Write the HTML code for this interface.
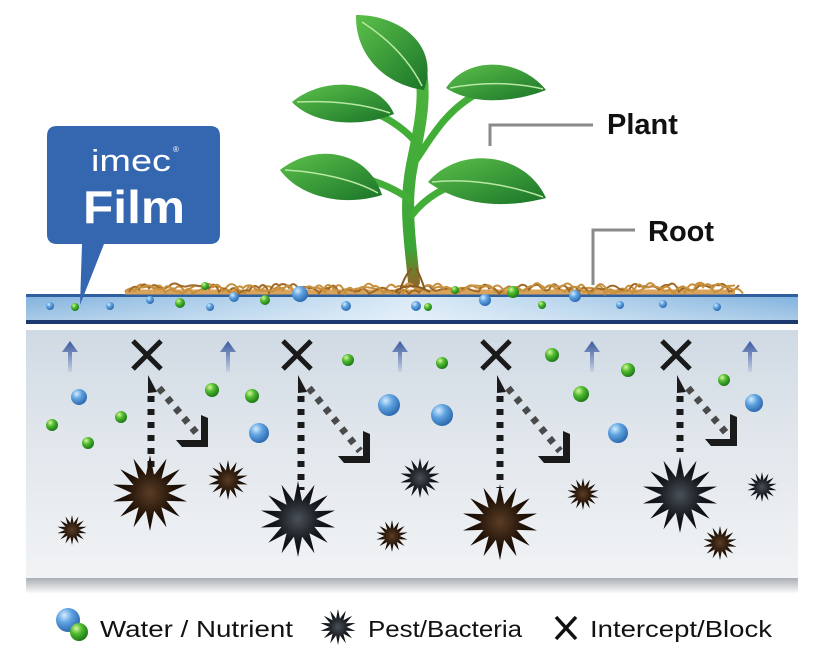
<!DOCTYPE html>
<html><head><meta charset="utf-8"><style>
html,body{margin:0;padding:0;background:#fff;width:822px;height:664px;overflow:hidden}
svg{display:block}
</style></head><body>
<svg id="s" width="822" height="664" viewBox="0 0 822 664" xmlns="http://www.w3.org/2000/svg">
<defs>
<linearGradient id="film" x1="0" y1="0" x2="1" y2="0">
<stop offset="0" stop-color="#7fb1dd"/><stop offset="0.5" stop-color="#d8e9f6"/><stop offset="1" stop-color="#7fb1dd"/>
</linearGradient>
<linearGradient id="filmv" x1="0" y1="0" x2="0" y2="1">
<stop offset="0" stop-color="#fff" stop-opacity="0"/><stop offset="1" stop-color="#fff" stop-opacity="0.35"/>
</linearGradient>
<linearGradient id="soil" x1="0" y1="0" x2="0" y2="1">
<stop offset="0" stop-color="#d0dae4"/><stop offset="0.5" stop-color="#e3e8ed"/><stop offset="1" stop-color="#f1f3f5"/>
</linearGradient>
<linearGradient id="shadow" x1="0" y1="0" x2="0" y2="1">
<stop offset="0" stop-color="#a9aeb3"/><stop offset="1" stop-color="#fff"/>
</linearGradient>
<linearGradient id="arr" x1="0" y1="0" x2="0" y2="1">
<stop offset="0" stop-color="#3c5aa0"/><stop offset="1" stop-color="#3c5aa0" stop-opacity="0.1"/>
</linearGradient>
<radialGradient id="blue" cx="0.35" cy="0.3" r="0.7">
<stop offset="0" stop-color="#d4ecff"/><stop offset="0.45" stop-color="#5fa3e0"/><stop offset="1" stop-color="#2e6bb0"/>
</radialGradient>
<radialGradient id="green" cx="0.35" cy="0.3" r="0.7">
<stop offset="0" stop-color="#d9f5a0"/><stop offset="0.45" stop-color="#4fbb2e"/><stop offset="1" stop-color="#1f7a1a"/>
</radialGradient>
<radialGradient id="brown" cx="0.5" cy="0.5" r="0.5">
<stop offset="0" stop-color="#5a3d26"/><stop offset="0.6" stop-color="#241408"/><stop offset="1" stop-color="#0e0804"/>
</radialGradient>
<radialGradient id="black" cx="0.5" cy="0.5" r="0.5">
<stop offset="0" stop-color="#4a5058"/><stop offset="0.6" stop-color="#15181c"/><stop offset="1" stop-color="#08090b"/>
</radialGradient>
<linearGradient id="leaf" x1="0" y1="0" x2="1" y2="1">
<stop offset="0" stop-color="#5cc14a"/><stop offset="1" stop-color="#1a7428"/>
</linearGradient>
<linearGradient id="stem" x1="0" y1="0" x2="0" y2="1">
<stop offset="0" stop-color="#4fb53e"/><stop offset="0.85" stop-color="#3aa536"/><stop offset="1" stop-color="#8a6a2a"/>
</linearGradient>
</defs>

<rect x="26" y="578" width="772" height="16" fill="url(#shadow)"/>
<rect x="26" y="330" width="772" height="248" fill="url(#soil)"/>
<rect x="26" y="295" width="772" height="27" fill="url(#film)"/>
<rect x="26" y="295" width="772" height="27" fill="url(#filmv)"/>
<rect x="26" y="294" width="772" height="3" fill="#2f5f9e"/>
<rect x="26" y="320" width="772" height="4" fill="#1d3a70"/>

<path d="M57,126 H210 Q220,126 220,136 V234 Q220,244 210,244 H104 L80,305 L82,244 H57 Q47,244 47,234 V136 Q47,126 57,126 Z" fill="#3566b0"/>
<text x="131" y="171" fill="#fff" font-family="Liberation Sans, sans-serif" font-size="31" text-anchor="middle" textLength="80" lengthAdjust="spacingAndGlyphs">imec</text>
<text x="173" y="152" fill="#fff" font-family="Liberation Sans, sans-serif" font-size="8">®</text>
<text x="134" y="223" fill="#fff" font-family="Liberation Sans, sans-serif" font-size="46" font-weight="bold" text-anchor="middle" textLength="102" lengthAdjust="spacingAndGlyphs">Film</text>

<path d="M490,146 V125 H593" fill="none" stroke="#8a8a8a" stroke-width="3"/>
<text x="607" y="134" font-family="Liberation Sans, sans-serif" font-size="29" font-weight="bold" fill="#111">Plant</text>
<path d="M593,285 V230 H635" fill="none" stroke="#8a8a8a" stroke-width="3"/>
<text x="648" y="241" font-family="Liberation Sans, sans-serif" font-size="29" font-weight="bold" fill="#111">Root</text>

<g fill="none" stroke-linecap="round">
<path d="M414,282 C410,240 404,205 412,165 C420,125 428,95 418,55" stroke="url(#stem)" stroke-width="12"/>
<path d="M416,160 C430,140 445,110 480,92" stroke="#42ae38" stroke-width="7"/>
<path d="M410,200 C395,188 370,178 340,172" stroke="#42ae38" stroke-width="7"/>
<path d="M412,215 C425,198 445,186 470,180" stroke="#42ae38" stroke-width="7"/>
<path d="M414,140 C400,125 380,112 350,104" stroke="#42ae38" stroke-width="7"/>
</g>
<path d="M356,15 C400,15 440,45 424,90 C385,85 355,55 356,15 Z" fill="url(#leaf)"/>
<path d="M292,102 C325,75 380,80 394,114 C355,130 310,122 292,102 Z" fill="url(#leaf)"/>
<path d="M446,88 C468,55 520,58 546,90 C510,104 470,104 446,88 Z" fill="url(#leaf)"/>
<path d="M280,170 C315,142 368,150 382,195 C340,208 298,195 280,170 Z" fill="url(#leaf)"/>
<path d="M428,182 C460,145 525,152 546,198 C500,210 458,204 428,182 Z" fill="url(#leaf)"/>
<path d="M362,22 C390,40 410,62 422,86 M297,102 C340,100 370,106 390,113 M450,88 C480,82 515,82 543,89 M285,170 C320,172 355,180 378,193 M432,182 C470,178 510,185 543,197" fill="none" stroke="#b9e8a5" stroke-width="1.5"/>
<g id="roots" fill="none" stroke="#c58a3a" stroke-width="2"></g>
<g id="dyn"></g>

<circle cx="68" cy="620" r="12" fill="url(#blue)"/>
<circle cx="79" cy="632" r="9" fill="url(#green)"/>
<text x="100" y="637" font-family="Liberation Sans, sans-serif" font-size="23" fill="#111" textLength="193" lengthAdjust="spacingAndGlyphs">Water / Nutrient</text>
<g id="legstar"></g>
<text x="368" y="637" font-family="Liberation Sans, sans-serif" font-size="23" fill="#111" textLength="154" lengthAdjust="spacingAndGlyphs">Pest/Bacteria</text>
<path d="M556,617 L576,639 M576,617 L556,639" stroke="#111" stroke-width="3.5"/>
<text x="590" y="637" font-family="Liberation Sans, sans-serif" font-size="23" fill="#111" textLength="182" lengthAdjust="spacingAndGlyphs">Intercept/Block</text>
</svg>
<script>
var NS="http://www.w3.org/2000/svg",d=document.getElementById("dyn");
var seed=7;function rnd(){seed=(seed*9301+49297)%233280;return seed/233280;}
function el(t,a,p){var e=document.createElementNS(NS,t);for(var k in a)e.setAttribute(k,a[k]);(p||d).appendChild(e);return e;}
function star(cx,cy,r,f,n,p){n=n||14;var s="";for(var i=0;i<2*n;i++){var rr=i%2?r*0.48:r,a=Math.PI*i/n-Math.PI/2;s+=(i?"L":"M")+(cx+rr*Math.cos(a)).toFixed(1)+","+(cy+rr*Math.sin(a)).toFixed(1);}el("path",{d:s+"Z",fill:f},p);}
var rg=document.getElementById("roots");
el("path",{d:"M125,292 H735",stroke:"#d9a45a","stroke-width":5},rg);
for(var k=0;k<3;k++){var s="M"+(125+k*4)+",292";
for(var x=125+k*4;x<735;x+=10){s+=" Q"+(x+5)+","+(279+rnd()*14)+" "+(x+10)+","+(285+rnd()*9);}
el("path",{d:s,stroke:k==1?"#a06a28":"#c8913f"},rg);}
el("path",{d:"M400,290 Q405,275 412,268 M425,290 Q420,275 416,268 M395,292 Q410,280 430,292",stroke:"#8a5a20"},rg);
[[50,306,4,"blue"],[75,307,4,"green"],[110,306,4,"blue"],[150,300,4,"blue"],[180,303,5,"green"],[210,307,4,"blue"],[234,297,5,"blue"],[265,300,5,"green"],[300,294,8,"blue"],[346,306,5,"blue"],[205,286,4,"green"],[416,306,5,"blue"],[428,307,4,"green"],[485,300,6,"blue"],[513,292,6,"green"],[542,305,4,"green"],[575,296,6,"blue"],[620,305,4,"blue"],[663,304,4,"blue"],[717,307,4,"blue"],[455,290,4,"green"]].forEach(function(b){el("circle",{cx:b[0],cy:b[1],r:b[2],fill:"url(#"+b[3]+")"});});
[[79,397,8,"blue"],[52,425,6,"green"],[88,443,6,"green"],[121,417,6,"green"],[212,390,7,"green"],[252,396,7,"green"],[259,433,10,"blue"],[348,360,6,"green"],[389,405,11,"blue"],[442,415,11,"blue"],[442,363,6,"green"],[552,355,7,"green"],[581,394,8,"green"],[618,433,10,"blue"],[628,370,7,"green"],[724,380,6,"green"],[754,403,9,"blue"]].forEach(function(b){el("circle",{cx:b[0],cy:b[1],r:b[2],fill:"url(#"+b[3]+")"});});
[70,228,400,592,750].forEach(function(x){el("path",{d:"M"+(x-2)+",372 V352 H"+(x-8)+" L"+x+",341 L"+(x+8)+",352 H"+(x+2)+" V372 Z",fill:"url(#arr)"});});
[[147,355,508,208,447],[297,355,490,370,463],[496,355,488,570,463],[676,355,452,737,446]].forEach(function(c){
 var x=c[0],y=c[1];
 el("path",{d:"M"+(x-14)+","+(y-14)+" L"+(x+14)+","+(y+14)+" M"+(x+14)+","+(y-14)+" L"+(x-14)+","+(y+14),stroke:"#1a1a1a","stroke-width":5});
 var vx=x+4;
 el("path",{d:"M"+(vx-3)+",375 L"+(vx+6)+",392 L"+(vx-3)+",393 Z",fill:"#1a1a1a"});
 el("line",{x1:vx,y1:396,x2:vx,y2:c[2],stroke:"#1a1a1a","stroke-width":7,"stroke-dasharray":"6,7"});
 var cx=c[3],cy=c[4];
 el("line",{x1:vx+8,y1:388,x2:cx-10,y2:cy-12,stroke:"#4a4a4a","stroke-width":7,"stroke-dasharray":"6,7"});
 el("path",{d:"M"+(cx-32)+","+(cy-7)+" L"+(cx-7)+","+(cy-7)+" L"+(cx-7)+","+(cy-32)+" L"+cx+","+(cy-29)+" L"+cx+","+cy+" L"+(cx-26)+","+cy+" Z",fill:"#1a1a1a"});
});
[[150,493,38,"brown"],[228,480,20,"brown"],[72,530,15,"brown"],[298,519,38,"black"],[392,536,16,"brown"],[420,478,20,"black"],[500,522,38,"brown"],[583,494,16,"brown"],[680,495,38,"black"],[720,543,17,"brown"],[762,487,15,"black"]].forEach(function(t){star(t[0],t[1],t[2],"url(#"+t[3]+")");});
star(338,627,18,"url(#black)",14,document.getElementById("legstar"));
</script>
</body></html>
